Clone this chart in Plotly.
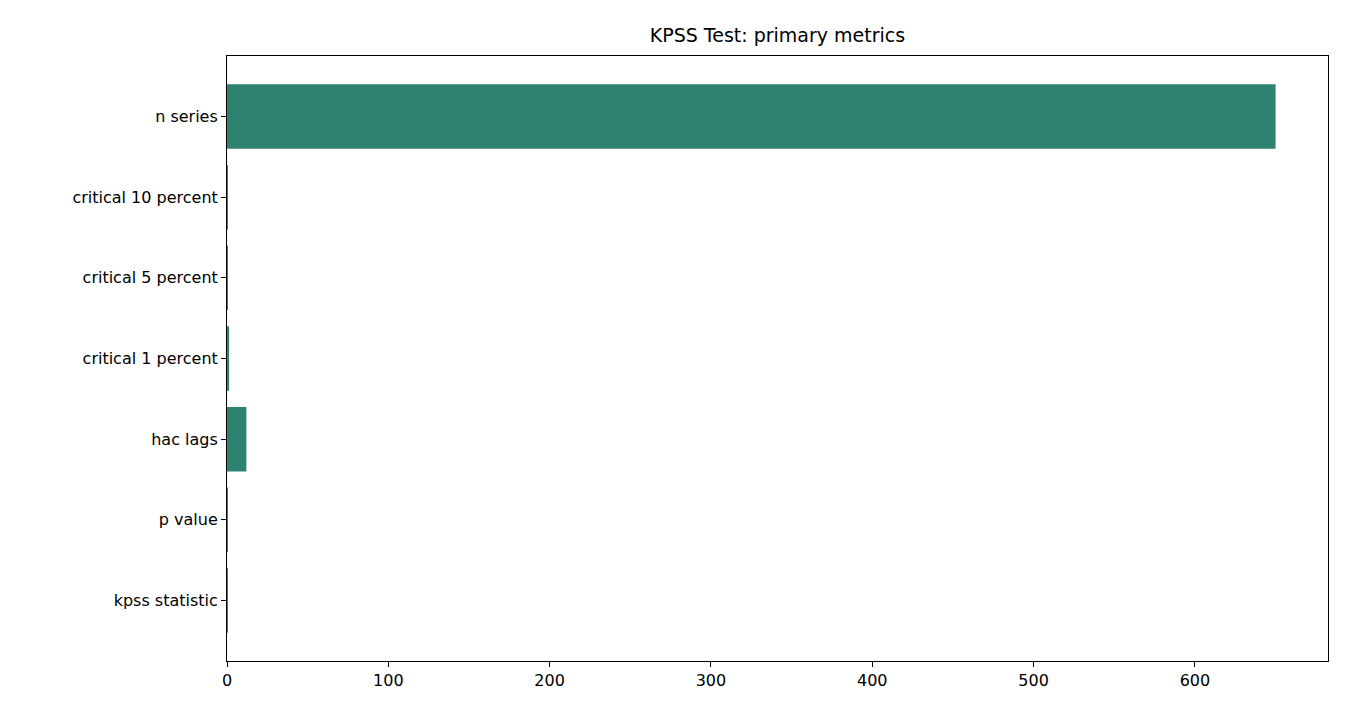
import plotly.graph_objects as go

categories = ["kpss statistic", "p value", "hac lags", "critical 1 percent",
              "critical 5 percent", "critical 10 percent", "n series"]
values = [0.3, 0.05, 12, 0.739, 0.463, 0.347, 650]
x_ticks = [0, 100, 200, 300, 400, 500, 600]

fig = go.Figure(go.Bar(x=values, y=categories, orientation="h", width=0.8,
                       marker=dict(color="#2e8270", line=dict(width=0))))
fig.update_layout(
    width=1350, height=720, plot_bgcolor="white", paper_bgcolor="white",
    margin=dict(l=219, r=30, t=48, b=67),
    font=dict(family="DejaVu Sans", size=16, color="black"),
    title=dict(text="KPSS Test: primary metrics", x=(227 + 1328) / 2 / 1350 - 8 / 1350,
               xanchor="center", y=1 - 27/720, yanchor="middle", font=dict(size=19)),
    showlegend=False, bargap=0.2,
)
fig.update_xaxes(range=[0, 682.5], tickvals=x_ticks, showgrid=False, zeroline=False,
                 showline=True, linecolor="black", mirror=True, ticks="outside",
                 ticklen=5, tickcolor="black")
fig.update_yaxes(range=[-0.75, 6.75], showgrid=False, zeroline=False,
                 showline=True, linecolor="black", mirror=True, ticks="outside",
                 ticklen=5, tickcolor="black", categoryorder="array", categoryarray=categories)
fig.write_html("out.html")
